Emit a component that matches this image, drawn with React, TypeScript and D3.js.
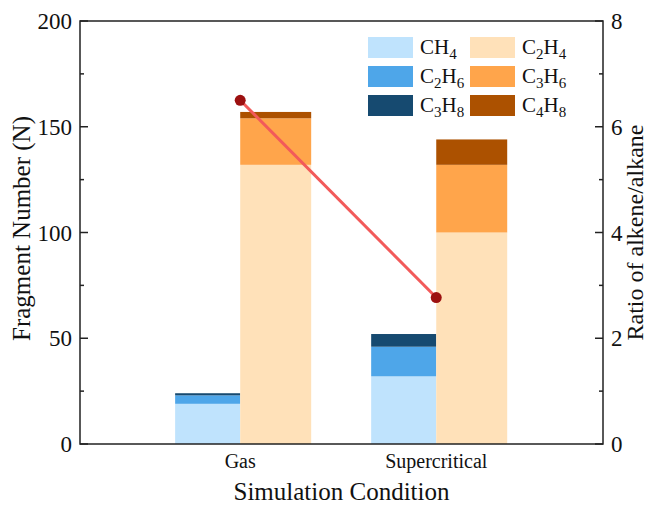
import React from "react";
import * as d3 from "d3";

const categories = ["Gas", "Supercritical"];
const alkaneKeys = ["CH4", "C2H6", "C3H8"];
const alkeneKeys = ["C2H4", "C3H6", "C4H8"];
const CH4 = [19, 32];
const C2H6 = [4, 14];
const C3H8 = [1, 6];
const C2H4 = [132, 100];
const C3H6 = [22, 32];
const C4H8 = [3, 12];
const ratio = [6.5, 2.77];
const leftTicks = [0, 50, 100, 150, 200];
const rightTicks = [0, 2, 4, 6, 8];

const colors: Record<string, string> = {
  CH4: "#bfe3fd",
  C2H6: "#4ea6e9",
  C3H8: "#164a70",
  C2H4: "#ffe1b9",
  C3H6: "#ffa54b",
  C4H8: "#ac5100",
};

const labels: Record<string, [string, string][]> = {
  CH4: [["CH", ""], ["4", "sub"]],
  C2H6: [["C", ""], ["2", "sub"], ["H", ""], ["6", "sub"]],
  C3H8: [["C", ""], ["3", "sub"], ["H", ""], ["8", "sub"]],
  C2H4: [["C", ""], ["2", "sub"], ["H", ""], ["4", "sub"]],
  C3H6: [["C", ""], ["3", "sub"], ["H", ""], ["6", "sub"]],
  C4H8: [["C", ""], ["4", "sub"], ["H", ""], ["8", "sub"]],
};

const W = 651, H = 508;
const M = { left: 80, right: 48, top: 21, bottom: 64 };
const FONT = "Liberation Serif";
const AX = "#222";
const TXT = { fontFamily: FONT };

export default function App() {
  const x0 = M.left, x1 = W - M.right, y0 = H - M.bottom, y1 = M.top;
  const x = d3.scalePoint<string>().domain(categories).range([x0, x1]).padding(0.834).align(0.49);
  const step = x.step();
  const yL = d3.scaleLinear().domain([0, 200]).range([y0, y1]);
  const yR = d3.scaleLinear().domain([0, 8]).range([y0, y1]);

  const rows = categories.map((c, i) => ({
    cat: c, CH4: CH4[i], C2H6: C2H6[i], C3H8: C3H8[i], C2H4: C2H4[i], C3H6: C3H6[i], C4H8: C4H8[i],
  }));
  const alkStack = d3.stack<any>().keys(alkaneKeys)(rows);
  const aleStack = d3.stack<any>().keys(alkeneKeys)(rows);
  const wA = step * 0.332, wE = step * 0.362;

  const line = d3.line<number>().x((_, i) => x(categories[i])!).y((d) => yR(d));

  const minorL = d3.range(25, 200, 50);
  const minorR = d3.range(1, 8, 2);

  const legendRows = [["CH4", "C2H4"], ["C2H6", "C3H6"], ["C3H8", "C4H8"]];

  const renderLabel = (k: string) =>
    labels[k].map(([t, kind], j) => (
      <tspan key={j} style={TXT} fontSize={kind === "sub" ? 15 : 21} dy={kind === "sub" ? 5 : (j > 0 ? -5 : 0)}>{t}</tspan>
    ));

  return (
    <svg width={W} height={H} style={{ position: "absolute", left: 0, top: 0, background: "#fff", fontFamily: FONT }}>
      {/* bars */}
      {alkStack.map((s) => (
        <g key={s.key} fill={colors[s.key]}>
          {s.map((d, i) => (
            <rect key={i} x={x(categories[i])! - wA} width={wA} y={yL(d[1])} height={yL(d[0]) - yL(d[1])} />
          ))}
        </g>
      ))}
      {aleStack.map((s) => (
        <g key={s.key} fill={colors[s.key]}>
          {s.map((d, i) => (
            <rect key={i} x={x(categories[i])!} width={wE} y={yL(d[1])} height={yL(d[0]) - yL(d[1])} />
          ))}
        </g>
      ))}
      {/* ratio line */}
      <path d={line(ratio)!} fill="none" stroke="#f25a5a" strokeWidth={3} />
      {ratio.map((r, i) => (
        <circle key={i} cx={x(categories[i])!} cy={yR(r)} r={5.5} fill="#9c1010" />
      ))}
      {/* frame */}
      <rect x={x0} y={y1} width={x1 - x0} height={y0 - y1} fill="none" stroke={AX} strokeWidth={1.5} />
      {/* left ticks */}
      {leftTicks.map((t) => (
        <g key={t}>
          <line x1={x0} x2={x0 + 8} y1={yL(t)} y2={yL(t)} stroke={AX} strokeWidth={1.5} />
          <text style={TXT} x={x0 - 8} y={yL(t)} dy="0.35em" textAnchor="end" fontSize={23} fill="#111">{t}</text>
        </g>
      ))}
      {minorL.map((t) => (
        <line key={t} x1={x0} x2={x0 + 4} y1={yL(t)} y2={yL(t)} stroke={AX} strokeWidth={1.5} />
      ))}
      {/* right ticks */}
      {rightTicks.map((t) => (
        <g key={t}>
          <line x1={x1} x2={x1 - 8} y1={yR(t)} y2={yR(t)} stroke={AX} strokeWidth={1.5} />
          <text style={TXT} x={x1 + 8} y={yR(t)} dy="0.35em" textAnchor="start" fontSize={23} fill="#111">{t}</text>
        </g>
      ))}
      {minorR.map((t) => (
        <line key={t} x1={x1} x2={x1 - 4} y1={yR(t)} y2={yR(t)} stroke={AX} strokeWidth={1.5} />
      ))}
      {/* category labels */}
      {categories.map((c) => (
        <text style={TXT} key={c} x={x(c)} y={y0 + 24} textAnchor="middle" fontSize={20} fill="#111">{c}</text>
      ))}
      {/* axis titles */}
      <text style={TXT} x={(x0 + x1) / 2} y={H - 8} textAnchor="middle" fontSize={25} fill="#111">Simulation Condition</text>
      <text style={TXT} transform={`translate(30,${(y0 + y1) / 2 - 4}) rotate(-90)`} textAnchor="middle" fontSize={25} fill="#111">Fragment Number (N)</text>
      <text style={TXT} transform={`translate(643,${(y0 + y1) / 2}) rotate(-90)`} textAnchor="middle" fontSize={24} fill="#111">Ratio of alkene/alkane</text>
      {/* legend */}
      {legendRows.map((row, r) =>
        row.map((k, c) => (
          <g key={k} transform={`translate(${368 + c * 102},${37 + r * 29})`}>
            <rect width={45} height={21} fill={colors[k]} />
            <text style={TXT} x={52} y={17} fontSize={21} fill="#111">{renderLabel(k)}</text>
          </g>
        ))
      )}
    </svg>
  );
}
